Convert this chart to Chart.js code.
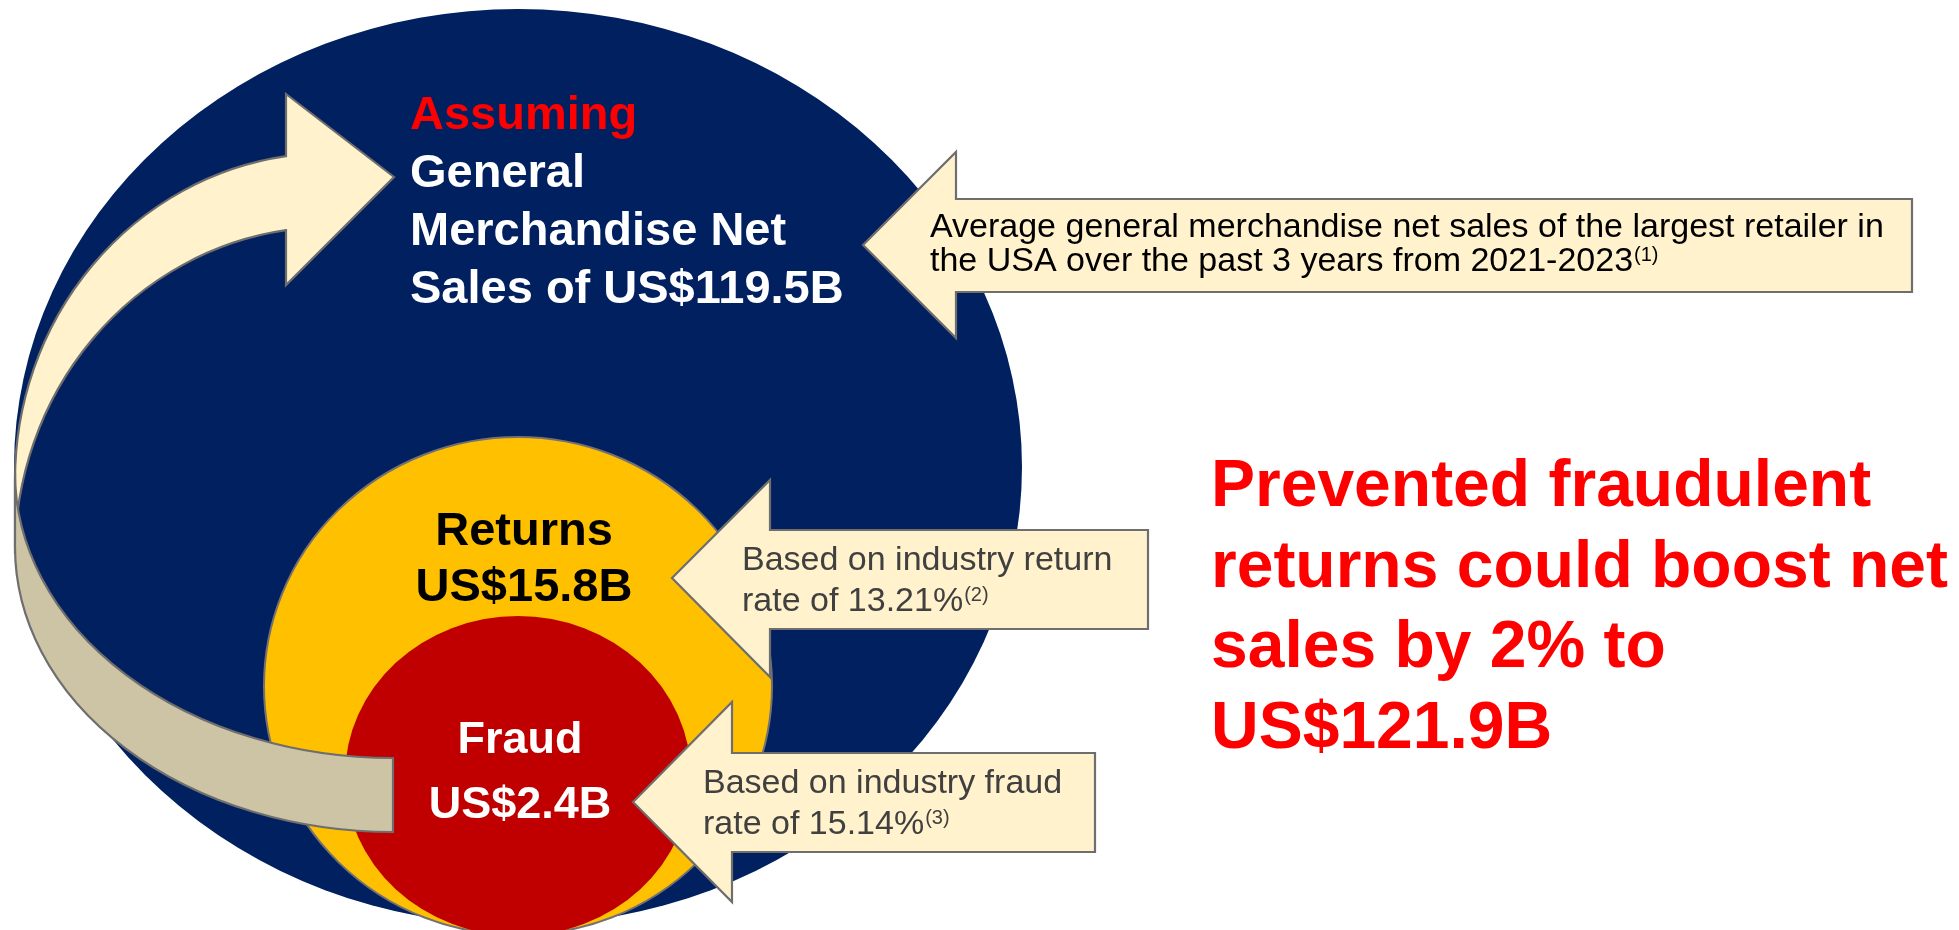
<!DOCTYPE html>
<html>
<head>
<meta charset="utf-8">
<script src="https://cdn.jsdelivr.net/npm/chart.js@4.4.1/dist/chart.umd.min.js"></script>
<style>
  html, body { margin: 0; padding: 0; background: #ffffff; }
  #wrap { position: relative; width: 1959px; height: 930px; }
</style>
</head>
<body>
<div id="wrap"><canvas id="diagram"></canvas></div>
<script>
// Values shown in the picture
const tierNames = ['General Merchandise Net Sales', 'Returns', 'Fraud'];
const tierValues = [119.5, 15.8, 2.4];      // US$ billions
const tierRates = [null, 13.21, 15.14];     // % rates behind returns / fraud
const noteRefs = ['(1)', '(2)', '(3)'];
const boostPct = 2;
const boostedSales = 121.9;                 // US$ billions

// Layout, in scale units (x 0..1959, y 0..930 from the top)
const ellipseCenters = [[518, 467], [518, 686], [518, 776]];
const ellipseRadii = [[504, 458], [254, 249], [173, 160]];
const ellipseColors = ['#002060', '#FFC000', '#C00000'];
const ellipseBorders = ['rgba(0,0,0,0)', '#767171', 'rgba(0,0,0,0)'];

// left-pointing callouts: tip, head back x, head top/bottom, shaft top/bottom, right end
const callouts = [
    { tip: [863, 245], headX: 956, headTop: 152, headBot: 338, shaftTop: 199, shaftBot: 292, right: 1912 },
    { tip: [672, 578], headX: 770, headTop: 480, headBot: 677, shaftTop: 530, shaftBot: 629, right: 1148 },
    { tip: [633, 802], headX: 732, headTop: 702, headBot: 902, shaftTop: 753, shaftBot: 852, right: 1095 },
];
const calloutText = [
    { x: 930, y: 237, step: 34, color: '#000000' },
    { x: 742, y: 570, step: 41, color: '#404040' },
    { x: 703, y: 793, step: 41, color: '#404040' },
];

const FONT = '"Liberation Sans", Arial, Helvetica, sans-serif';
const OUTLINE = '#6E6E6E';
const CREAM = '#FFF2CC';
const TAN = '#CDC3A5';

// Stretch each bubble into its ellipse
const ellipsePlugin = {
    id: 'ellipse',
    beforeDatasetDraw(chart, args) {
        const i = args.index;
        const el = args.meta.data[0];
        const ys = chart.scales.y, xs = chart.scales.x;
        const rx = xs.getPixelForValue(ellipseCenters[i][0] + ellipseRadii[i][0]) - el.x;
        const ry = ys.getPixelForValue(ellipseCenters[i][1] + ellipseRadii[i][1]) - el.y;
        const ctx = chart.ctx;
        ctx.save();
        ctx.translate(el.x, el.y);
        ctx.scale(1, ry / rx);
        ctx.translate(-el.x, -el.y);
    },
    afterDatasetDraw(chart) {
        chart.ctx.restore();
    }
};

function drawText(ctx, text, x, y, font, color, align) {
    ctx.font = font;
    ctx.fillStyle = color;
    ctx.textAlign = align || 'left';
    ctx.textBaseline = 'alphabetic';
    ctx.fillText(text, x, y);
    return ctx.measureText(text).width;
}

const overlayPlugin = {
    id: 'overlay',
    afterDatasetsDraw(chart) {
        const ctx = chart.ctx;
        const X = v => chart.scales.x.getPixelForValue(v);
        const Y = v => chart.scales.y.getPixelForValue(v);
        const W = v => X(v) - X(0);
        const H = v => Y(v) - Y(0);

        ctx.save();
        ctx.lineJoin = 'miter';
        ctx.strokeStyle = OUTLINE;
        ctx.lineWidth = 2.2;

        // curved arrow, front (light) part with the head
        const aOut = -Math.acos((286 - 330) / 315);
        ctx.beginPath();
        ctx.moveTo(X(286), Y(94));
        ctx.lineTo(X(394), Y(177));
        ctx.lineTo(X(286), Y(285));
        ctx.lineTo(X(286), Y(554 + 327 * Math.sin(aOut)));
        ctx.ellipse(X(330), Y(554), W(315), H(327), 0, aOut, -Math.PI, true);
        ctx.lineTo(X(15), Y(480));
        ctx.ellipse(X(330), Y(480), W(315), H(327), 0, -Math.PI, aOut, false);
        ctx.closePath();
        ctx.fillStyle = CREAM;
        ctx.fill();
        ctx.stroke();

        // curved arrow, back (darker) part ending in the tail
        ctx.beginPath();
        ctx.ellipse(X(393), Y(473), W(378), H(285), 0, Math.PI, Math.PI / 2, true);
        ctx.lineTo(X(393), Y(832));
        ctx.ellipse(X(393), Y(547), W(378), H(285), 0, Math.PI / 2, Math.PI, false);
        ctx.closePath();
        ctx.fillStyle = TAN;
        ctx.fill();
        ctx.stroke();

        // callout arrows
        callouts.forEach(c => {
            ctx.beginPath();
            ctx.moveTo(X(c.tip[0]), Y(c.tip[1]));
            ctx.lineTo(X(c.headX), Y(c.headTop));
            ctx.lineTo(X(c.headX), Y(c.shaftTop));
            ctx.lineTo(X(c.right), Y(c.shaftTop));
            ctx.lineTo(X(c.right), Y(c.shaftBot));
            ctx.lineTo(X(c.headX), Y(c.shaftBot));
            ctx.lineTo(X(c.headX), Y(c.headBot));
            ctx.closePath();
            ctx.fillStyle = CREAM;
            ctx.fill();
            ctx.stroke();
        });

        // callout texts
        const notes = [
            ['Average general merchandise net sales of the largest retailer in',
             'the USA over the past 3 years from 2021-2023'],
            ['Based on industry return', 'rate of ' + tierRates[1].toFixed(2) + '%'],
            ['Based on industry fraud', 'rate of ' + tierRates[2].toFixed(2) + '%'],
        ];
        notes.forEach((lines, i) => {
            const t = calloutText[i];
            drawText(ctx, lines[0], X(t.x), Y(t.y), '34px ' + FONT, t.color);
            const w = drawText(ctx, lines[1], X(t.x), Y(t.y + t.step), '34px ' + FONT, t.color);
            drawText(ctx, noteRefs[i], X(t.x) + w + 1, Y(t.y + t.step - 10), '20px ' + FONT, t.color);
        });

        // text inside the big circle
        const bold47 = 'bold 47px ' + FONT;
        drawText(ctx, 'Assuming', X(410), Y(129), bold47, '#FF0000');
        const mainLines = ['General', 'Merchandise Net', 'Sales of US$' + tierValues[0] + 'B'];
        mainLines.forEach((s, k) => drawText(ctx, s, X(410), Y(187 + k * 58), bold47, '#FFFFFF'));

        // returns / fraud labels
        drawText(ctx, tierNames[1], X(524), Y(545), bold47, '#000000', 'center');
        drawText(ctx, 'US$' + tierValues[1] + 'B', X(524), Y(601), bold47, '#000000', 'center');
        drawText(ctx, tierNames[2], X(520), Y(753), 'bold 45px ' + FONT, '#FFFFFF', 'center');
        drawText(ctx, 'US$' + tierValues[2] + 'B', X(520), Y(818), 'bold 45px ' + FONT, '#FFFFFF', 'center');

        // headline on the right
        const headline = ['Prevented fraudulent', 'returns could boost net',
            'sales by ' + boostPct + '% to', 'US$' + boostedSales + 'B'];
        headline.forEach((s, k) => drawText(ctx, s, X(1211), Y(506 + k * 80.5), 'bold 66px ' + FONT, '#FF0000'));

        ctx.restore();
    }
};

const chart = new Chart(document.getElementById('diagram'), {
    type: 'bubble',
    data: {
        datasets: tierNames.map((name, i) => ({
            label: name,
            data: [{ x: ellipseCenters[i][0], y: ellipseCenters[i][1], r: ellipseRadii[i][0] }],
            backgroundColor: ellipseColors[i],
            borderColor: ellipseBorders[i],
            borderWidth: i === 1 ? 2 : 0,
            order: 3 - i,
            clip: false,
        })),
    },
    options: {
        responsive: true,
        maintainAspectRatio: false,
        animation: false,
        events: [],
        layout: { padding: 0, autoPadding: false },
        scales: {
            x: { type: 'linear', min: 0, max: 1959, display: false },
            y: { type: 'linear', min: 0, max: 930, reverse: true, display: false },
        },
        plugins: {
            legend: { display: false },
            tooltip: { enabled: false },
        },
    },
    plugins: [ellipsePlugin, overlayPlugin],
});
</script>
</body>
</html>
